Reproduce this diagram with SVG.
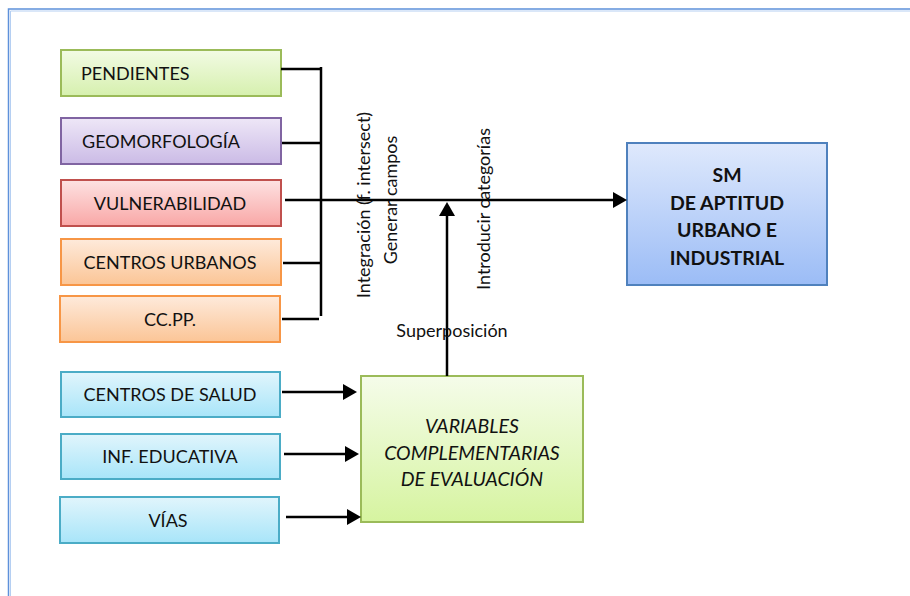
<svg xmlns="http://www.w3.org/2000/svg" width="910" height="596" viewBox="0 0 910 596">
  <defs>
    <linearGradient id="gGreen" x1="0" y1="0" x2="0" y2="1">
      <stop offset="0" stop-color="#f2fbe4"/>
      <stop offset="1" stop-color="#d6f0ae"/>
    </linearGradient>
    <linearGradient id="gPurple" x1="0" y1="0" x2="0" y2="1">
      <stop offset="0" stop-color="#eee7f7"/>
      <stop offset="1" stop-color="#cbbbe6"/>
    </linearGradient>
    <linearGradient id="gRed" x1="0" y1="0" x2="0" y2="1">
      <stop offset="0" stop-color="#fde2e2"/>
      <stop offset="1" stop-color="#f9a7a6"/>
    </linearGradient>
    <linearGradient id="gOrange" x1="0" y1="0" x2="0" y2="1">
      <stop offset="0" stop-color="#feeadb"/>
      <stop offset="1" stop-color="#fbc596"/>
    </linearGradient>
    <linearGradient id="gCyan" x1="0" y1="0" x2="0" y2="1">
      <stop offset="0" stop-color="#e1f5fc"/>
      <stop offset="1" stop-color="#a8e5f9"/>
    </linearGradient>
    <linearGradient id="gLime" x1="0" y1="0" x2="0" y2="1">
      <stop offset="0" stop-color="#f5fcea"/>
      <stop offset="1" stop-color="#d6f4a0"/>
    </linearGradient>
    <linearGradient id="gBlue" x1="0" y1="0" x2="0" y2="1">
      <stop offset="0" stop-color="#dfe9fc"/>
      <stop offset="1" stop-color="#9bbcf6"/>
    </linearGradient>
    <marker id="arrow" viewBox="0 0 14 16" refX="0" refY="8" markerWidth="14" markerHeight="16" markerUnits="userSpaceOnUse" orient="auto">
      <path d="M0,0 L14,8 L0,16 Z" fill="#000"/>
    </marker>
    <style>
      .box { stroke-width: 2; }
      .lbl { font-family: Lato, "Liberation Sans", sans-serif; font-size: 18px; fill: #111; }
      .mid { text-anchor: middle; }
      .note { font-family: Lato, "Liberation Sans", sans-serif; font-size: 18px; fill: #111; text-anchor: middle; }
      .title { font-family: Lato, "Liberation Sans", sans-serif; font-size: 19.5px; font-weight: bold; fill: #111; text-anchor: middle; }
      .ital { font-family: Lato, "Liberation Sans", sans-serif; font-size: 19.5px; font-style: italic; fill: #111; text-anchor: middle; }
      .wire { fill: none; stroke: #000; stroke-width: 2.5; }
    </style>
  </defs>

  <!-- page frame -->
  <g id="frame" fill="none">
    <path d="M8.5,596 V9 H910" stroke="#5e91da" stroke-width="1.5"/>
    <path d="M10.5,596 V11 H910" stroke="#b5cff2" stroke-width="1"/>
  </g>

  <!-- input layers -->
  <g id="pendientes">
    <rect class="box" x="61" y="50" width="220" height="46" fill="url(#gGreen)" stroke="#9bbb59"/>
    <text class="lbl" x="81" y="80">PENDIENTES</text>
  </g>
  <g id="geomorfologia">
    <rect class="box" x="61" y="118" width="220" height="46" fill="url(#gPurple)" stroke="#8064a2"/>
    <text class="lbl" x="82" y="148">GEOMORFOLOGÍA</text>
  </g>
  <g id="vulnerabilidad">
    <rect class="box" x="61" y="180" width="220" height="46" fill="url(#gRed)" stroke="#c0504d"/>
    <text class="lbl mid" x="170" y="210">VULNERABILIDAD</text>
  </g>
  <g id="centros-urbanos">
    <rect class="box" x="61" y="239" width="220" height="46" fill="url(#gOrange)" stroke="#f79646"/>
    <text class="lbl mid" x="170" y="269">CENTROS URBANOS</text>
  </g>
  <g id="ccpp">
    <rect class="box" x="60" y="296" width="220" height="46" fill="url(#gOrange)" stroke="#f79646"/>
    <text class="lbl mid" x="170" y="326">CC.PP.</text>
  </g>

  <!-- complementary inputs -->
  <g id="centros-salud">
    <rect class="box" x="61" y="372" width="219" height="45" fill="url(#gCyan)" stroke="#4bacc6"/>
    <text class="lbl mid" x="170" y="401">CENTROS DE SALUD</text>
  </g>
  <g id="inf-educativa">
    <rect class="box" x="61" y="434" width="219" height="45" fill="url(#gCyan)" stroke="#4bacc6"/>
    <text class="lbl mid" x="170" y="463">INF. EDUCATIVA</text>
  </g>
  <g id="vias">
    <rect class="box" x="60" y="497" width="219" height="46" fill="url(#gCyan)" stroke="#4bacc6"/>
    <text class="lbl mid" x="168" y="527">VÍAS</text>
  </g>

  <g id="variables">
    <rect class="box" x="361" y="376" width="222" height="146" fill="url(#gLime)" stroke="#9bbb59"/>
    <text class="ital" x="472" y="433">VARIABLES</text>
    <text class="ital" x="472" y="460">COMPLEMENTARIAS</text>
    <text class="ital" x="472" y="486">DE EVALUACIÓN</text>
  </g>

  <!-- result -->
  <g id="resultado">
    <rect class="box" x="627" y="143" width="200" height="142" fill="url(#gBlue)" stroke="#4f81bd"/>
    <text class="title" x="727" y="182">SM</text>
    <text class="title" x="727" y="210">DE APTITUD</text>
    <text class="title" x="727" y="237">URBANO E</text>
    <text class="title" x="727" y="265">INDUSTRIAL</text>
  </g>

  <!-- connectors -->
  <g id="connectors">
    <path class="wire" d="M321,67 V316"/>
    <path class="wire" d="M281,69 H321"/>
    <path class="wire" d="M282,143 H321"/>
    <path class="wire" d="M283,263 H321"/>
    <path class="wire" d="M282,319 H319"/>
    <path class="wire" d="M285,200 H613" marker-end="url(#arrow)"/>
    <path class="wire" d="M447,376 V216" marker-end="url(#arrow)"/>
    <path class="wire" d="M282,392 H343" marker-end="url(#arrow)"/>
    <path class="wire" d="M284,454 H345" marker-end="url(#arrow)"/>
    <path class="wire" d="M286,517 H347" marker-end="url(#arrow)"/>
  </g>

  <!-- process labels -->
  <g id="labels">
    <text class="note" transform="translate(370,205) rotate(-90)">Integración (f. intersect)</text>
    <text class="note" transform="translate(397,200) rotate(-90)">Generar campos</text>
    <text class="note" transform="translate(490,209) rotate(-90)">Introducir categorías</text>
    <text class="note" x="452" y="337">Superposición</text>
  </g>
</svg>
